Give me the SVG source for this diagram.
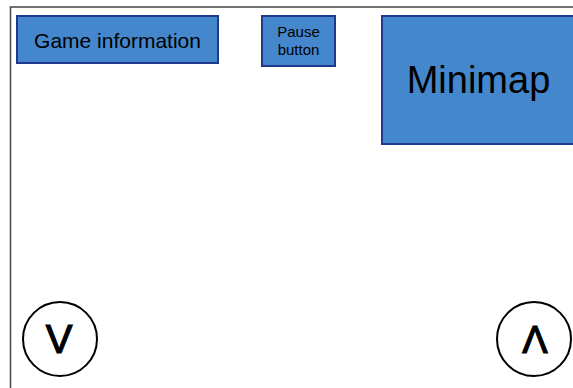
<svg xmlns="http://www.w3.org/2000/svg" width="573" height="388" viewBox="0 0 573 388">
<style>
.box{fill:#4487cc;stroke:#1f3a8c;stroke-width:2}
.btn{fill:#fff;stroke:#000;stroke-width:2}
text{font-family:"Liberation Sans",Arial,sans-serif;fill:#000;text-anchor:middle}
.sym{stroke:#000;stroke-width:1.2}
</style>
<rect width="573" height="388" fill="#fff"/>
<g id="frame">
<path d="M10.5 388 V7 H573" fill="none" stroke="#444" stroke-width="1.5"/>
</g>
<g id="game-information">
<rect class="box" x="17" y="16" width="201" height="47"/>
<text x="117.5" y="48" font-size="21">Game information</text>
</g>
<g id="pause-button">
<rect class="box" x="262" y="16" width="73" height="50"/>
<text x="298.5" y="37" font-size="15">Pause</text>
<text x="298.5" y="55" font-size="15">button</text>
</g>
<g id="minimap">
<rect class="box" x="382" y="16" width="200" height="128"/>
<text x="478.5" y="93" font-size="38">Minimap</text>
</g>
<g id="down-button">
<circle class="btn" cx="60" cy="339" r="37"/>
<text class="sym" x="59" y="353" font-size="40">V</text>
</g>
<g id="up-button">
<circle class="btn" cx="534" cy="339" r="37"/>
<text class="sym" x="535" y="353" font-size="38">Λ</text>
</g>
<g id="connectors"/>
</svg>
